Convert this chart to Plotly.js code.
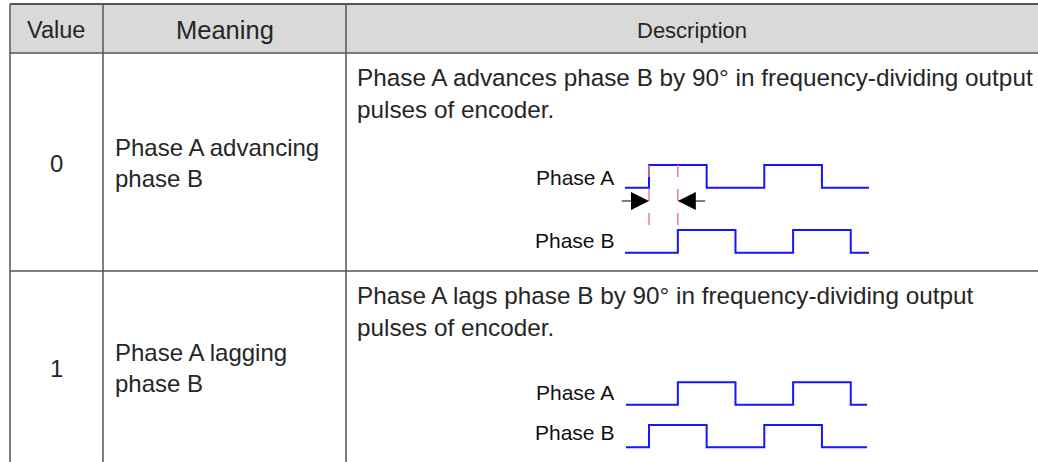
<!DOCTYPE html>
<html>
<head>
<meta charset="utf-8">
<script src="https://cdn.plot.ly/plotly-3.0.1.min.js"></script>
<style>
  html, body { margin: 0; padding: 0; background: #fff; }
  #chart { width: 1038px; height: 462px; }
</style>
</head>
<body>
<div id="chart"></div>
<script>
// ---------- data ----------
const headers = ['Value', 'Meaning', 'Description'];
const values = ['0', '1'];
const meanings = [
  ['Phase A advancing', 'phase B'],
  ['Phase A lagging', 'phase B']
];
const descriptions = [
  ['Phase A advances phase B by 90° in frequency-dividing output', 'pulses of encoder.'],
  ['Phase A lags phase B by 90° in frequency-dividing output', 'pulses of encoder.']
];
const signalNames = ['Phase A', 'Phase B'];

// waveform edges (electrical degrees) and logic levels, step 'hv'
const row0PhaseA_t = [-75, 0, 180, 360, 540, 687];
const row0PhaseA_v = [0, 1, 0, 1, 0, 0];
const row0PhaseB_t = [-75, 90, 270, 450, 630, 687];
const row0PhaseB_v = [0, 1, 0, 1, 0, 0];
const row1PhaseA_t = [-72, 90, 270, 450, 630, 681];
const row1PhaseA_v = [0, 1, 0, 1, 0, 0];
const row1PhaseB_t = [-72, 0, 180, 360, 540, 681];
const row1PhaseB_v = [0, 1, 0, 1, 0, 0];
const phaseShiftDeg = 90;

// ---------- layout helpers ----------
const W = 1038, H = 462;
const colX = [10, 103, 346, W];
const rowY = [4, 53, 271, 464];
const lineColor = '#555555';
const textColor = '#262626';
const FONT = 'Liberation Sans, Arial, sans-serif';
const pyToPaper = py => 1 - py / H;
function yDomain(lowPx, highPx) {
  const half = (lowPx - highPx) / 2;
  return [pyToPaper(lowPx + half), pyToPaper(highPx - half)];
}

const waveColor = '#1515ff';
function wave(t, v, ya) {
  return {
    x: t, y: v, xaxis: 'x2', yaxis: ya, type: 'scatter', mode: 'lines',
    line: { shape: 'hv', color: waveColor, width: 2 },
    hoverinfo: 'skip', showlegend: false
  };
}

const traces = [
  { x: [], y: [], type: 'scatter', mode: 'lines', showlegend: false, hoverinfo: 'skip' },
  wave(row0PhaseA_t, row0PhaseA_v, 'y2'),
  wave(row0PhaseB_t, row0PhaseB_v, 'y3'),
  wave(row1PhaseA_t, row1PhaseA_v, 'y4'),
  wave(row1PhaseB_t, row1PhaseB_v, 'y5')
];

// ---------- shapes (table grid) ----------
const shapes = [];
shapes.push({ type: 'rect', xref: 'x', yref: 'y', x0: colX[0], x1: colX[3] + 2, y0: rowY[0], y1: rowY[1],
  fillcolor: '#d9d9d9', line: { width: 0 }, layer: 'below' });
function hline(y, w) {
  shapes.push({ type: 'line', xref: 'x', yref: 'y', x0: colX[0], x1: colX[3] + 2, y0: y, y1: y,
    line: { color: lineColor, width: w } });
}
function vline(x) {
  shapes.push({ type: 'line', xref: 'x', yref: 'y', x0: x, x1: x, y0: rowY[0], y1: H + 2,
    line: { color: lineColor, width: 1.5 } });
}
hline(rowY[0], 2); hline(rowY[1], 1.5); hline(rowY[2], 1.5);
vline(colX[0]); vline(colX[1]); vline(colX[2]);

// red dashed phase markers (row 0), from the rising edges of A and B
const markA = row0PhaseA_t[1];
const markB = markA + phaseShiftDeg;
[markA, markB].forEach(t => {
  shapes.push({ type: 'line', xref: 'x2', yref: 'y', x0: t, x1: t, y0: 165, y1: 231,
    line: { color: '#f28080', width: 1.5, dash: '12px,12px' } });
});

// ---------- annotations ----------
const ann = [];
function txt(x, y, s, anchor, size, color) {
  ann.push({ xref: 'x', yref: 'y', x: x, y: y, text: s, showarrow: false,
    xanchor: anchor, yanchor: 'middle',
    font: { family: FONT, size: size, color: color || textColor } });
}
const hdrY = 30;
txt(55.5, hdrY, headers[0], 'center', 23.5);
txt((colX[1] + colX[2]) / 2, hdrY, headers[1], 'center', 25.5);
txt((colX[2] + colX[3]) / 2, hdrY, headers[2], 'center', 22);

const rowCenters = [163, 368];
const rowTops = [rowY[1], rowY[2]];
for (let r = 0; r < 2; r++) {
  txt((colX[0] + colX[1]) / 2, rowCenters[r], values[r], 'center', 24);
  txt(113, rowCenters[r] - 16, meanings[r][0], 'left', 24);
  txt(113, rowCenters[r] + 15, meanings[r][1], 'left', 24);
  txt(355, rowTops[r] + 24, descriptions[r][0], 'left', 24.3);
  txt(355, rowTops[r] + 56, descriptions[r][1], 'left', 24.3);
}
// signal labels
txt(616, 177, signalNames[0], 'right', 21, '#111');
txt(616, 240, signalNames[1], 'right', 21, '#111');
txt(616, 392, signalNames[0], 'right', 21, '#111');
txt(616, 432, signalNames[1], 'right', 21, '#111');

// arrows showing the 90° shift
ann.push({ xref: 'x2', yref: 'y', x: markA, y: 201, axref: 'x2', ayref: 'y', ax: markA - phaseShiftDeg, ay: 201,
  text: '', showarrow: true, arrowhead: 2, arrowsize: 3, arrowwidth: 1.2, arrowcolor: '#000', standoff: 0 });
ann.push({ xref: 'x2', yref: 'y', x: markB, y: 201, axref: 'x2', ayref: 'y', ax: markB + phaseShiftDeg, ay: 201,
  text: '', showarrow: true, arrowhead: 2, arrowsize: 3, arrowwidth: 1.2, arrowcolor: '#000', standoff: 0 });

const hidden = { visible: false, showgrid: false, zeroline: false, fixedrange: true };
const layout = {
  width: W, height: H,
  margin: { l: 0, r: 0, t: 0, b: 0, pad: 0 },
  paper_bgcolor: '#ffffff', plot_bgcolor: 'rgba(0,0,0,0)',
  showlegend: false,
  xaxis: Object.assign({ range: [0, W], domain: [0, 1] }, hidden),
  yaxis: Object.assign({ range: [H, 0], domain: [0, 1] }, hidden),
  xaxis2: Object.assign({ range: [-75, 687], domain: [625 / W, 869 / W], anchor: 'y2' }, hidden),
  yaxis2: Object.assign({ range: [-0.5, 1.5], domain: yDomain(187.7, 165), anchor: 'x2' }, hidden),
  yaxis3: Object.assign({ range: [-0.5, 1.5], domain: yDomain(252.7, 230), anchor: 'x2' }, hidden),
  yaxis4: Object.assign({ range: [-0.5, 1.5], domain: yDomain(404.8, 382.3), anchor: 'x2' }, hidden),
  yaxis5: Object.assign({ range: [-0.5, 1.5], domain: yDomain(447.2, 425), anchor: 'x2' }, hidden),
  shapes: shapes,
  annotations: ann
};

Plotly.newPlot('chart', traces, layout, { staticPlot: true, displayModeBar: false });
</script>
</body>
</html>
